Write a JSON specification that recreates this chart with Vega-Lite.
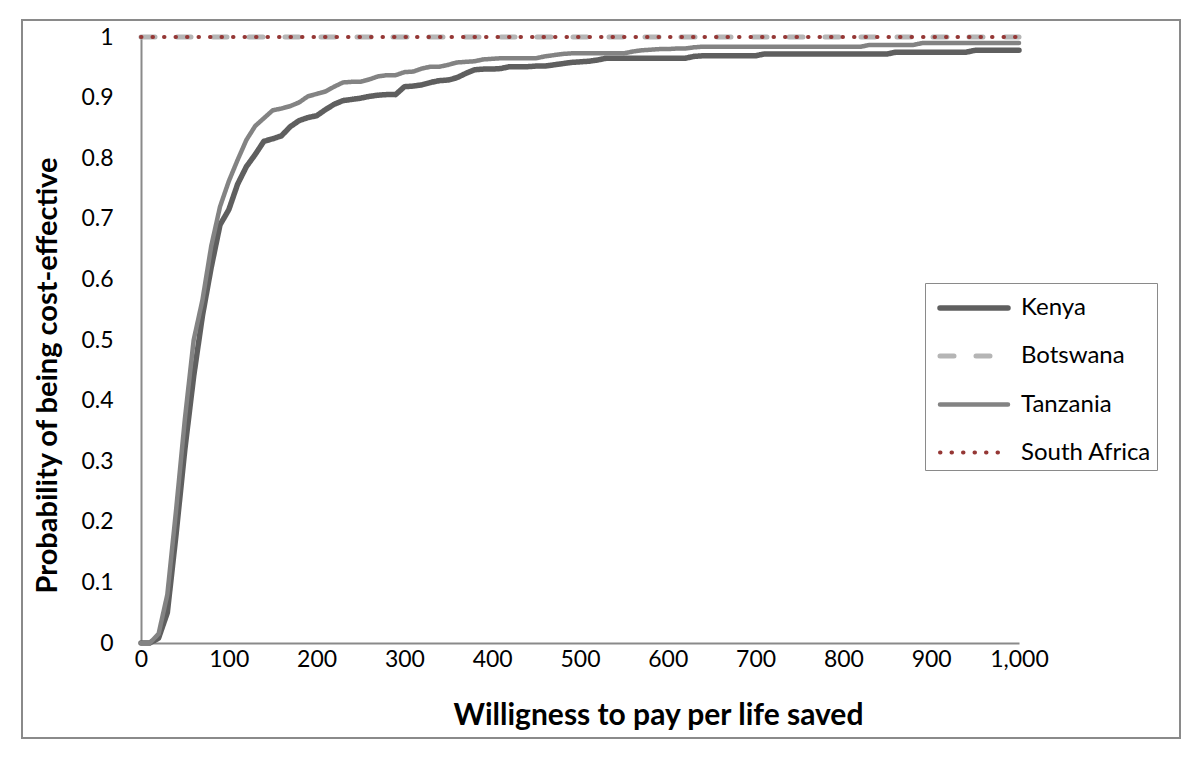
{
  "$schema": "https://vega.github.io/schema/vega-lite/v6.json",
  "autosize": "none",
  "width": 1158,
  "height": 718,
  "padding": {"left": 22, "top": 20, "right": 20, "bottom": 25},
  "background": "white",
  "config": {
    "view": {"stroke": "#8a8a8a", "strokeWidth": 2},
    "font": "Lato"
  },
  "data": {"values": [
    {"c":"Kenya","w":0,"p":0},{"c":"Kenya","w":10,"p":0},{"c":"Kenya","w":20,"p":0.008},{"c":"Kenya","w":30,"p":0.05},{"c":"Kenya","w":40,"p":0.18},{"c":"Kenya","w":50,"p":0.32},{"c":"Kenya","w":60,"p":0.44},{"c":"Kenya","w":70,"p":0.54},{"c":"Kenya","w":80,"p":0.62},{"c":"Kenya","w":90,"p":0.69},
    {"c":"Kenya","w":100,"p":0.715},{"c":"Kenya","w":110,"p":0.757},{"c":"Kenya","w":120,"p":0.786},{"c":"Kenya","w":130,"p":0.806},{"c":"Kenya","w":140,"p":0.828},{"c":"Kenya","w":150,"p":0.832},{"c":"Kenya","w":160,"p":0.837},{"c":"Kenya","w":170,"p":0.852},{"c":"Kenya","w":180,"p":0.862},{"c":"Kenya","w":190,"p":0.867},
    {"c":"Kenya","w":200,"p":0.87},{"c":"Kenya","w":210,"p":0.88},{"c":"Kenya","w":220,"p":0.889},{"c":"Kenya","w":230,"p":0.895},{"c":"Kenya","w":240,"p":0.897},{"c":"Kenya","w":250,"p":0.899},{"c":"Kenya","w":260,"p":0.902},{"c":"Kenya","w":270,"p":0.904},{"c":"Kenya","w":280,"p":0.905},{"c":"Kenya","w":290,"p":0.905},
    {"c":"Kenya","w":300,"p":0.918},{"c":"Kenya","w":310,"p":0.919},{"c":"Kenya","w":320,"p":0.921},{"c":"Kenya","w":330,"p":0.925},{"c":"Kenya","w":340,"p":0.928},{"c":"Kenya","w":350,"p":0.929},{"c":"Kenya","w":360,"p":0.933},{"c":"Kenya","w":370,"p":0.94},{"c":"Kenya","w":380,"p":0.946},{"c":"Kenya","w":390,"p":0.947},
    {"c":"Kenya","w":400,"p":0.947},{"c":"Kenya","w":410,"p":0.948},{"c":"Kenya","w":420,"p":0.951},{"c":"Kenya","w":430,"p":0.951},{"c":"Kenya","w":440,"p":0.951},{"c":"Kenya","w":450,"p":0.952},{"c":"Kenya","w":460,"p":0.952},{"c":"Kenya","w":470,"p":0.954},{"c":"Kenya","w":480,"p":0.956},{"c":"Kenya","w":490,"p":0.958},
    {"c":"Kenya","w":500,"p":0.959},{"c":"Kenya","w":510,"p":0.96},{"c":"Kenya","w":520,"p":0.962},{"c":"Kenya","w":530,"p":0.965},{"c":"Kenya","w":540,"p":0.965},{"c":"Kenya","w":550,"p":0.965},{"c":"Kenya","w":560,"p":0.965},{"c":"Kenya","w":570,"p":0.965},{"c":"Kenya","w":580,"p":0.965},{"c":"Kenya","w":590,"p":0.965},
    {"c":"Kenya","w":600,"p":0.965},{"c":"Kenya","w":610,"p":0.965},{"c":"Kenya","w":620,"p":0.965},{"c":"Kenya","w":630,"p":0.968},{"c":"Kenya","w":640,"p":0.969},{"c":"Kenya","w":650,"p":0.969},{"c":"Kenya","w":660,"p":0.969},{"c":"Kenya","w":670,"p":0.969},{"c":"Kenya","w":680,"p":0.969},{"c":"Kenya","w":690,"p":0.969},
    {"c":"Kenya","w":700,"p":0.969},{"c":"Kenya","w":710,"p":0.972},{"c":"Kenya","w":720,"p":0.972},{"c":"Kenya","w":730,"p":0.972},{"c":"Kenya","w":740,"p":0.972},{"c":"Kenya","w":750,"p":0.972},{"c":"Kenya","w":760,"p":0.972},{"c":"Kenya","w":770,"p":0.972},{"c":"Kenya","w":780,"p":0.972},{"c":"Kenya","w":790,"p":0.972},
    {"c":"Kenya","w":800,"p":0.972},{"c":"Kenya","w":810,"p":0.972},{"c":"Kenya","w":820,"p":0.972},{"c":"Kenya","w":830,"p":0.972},{"c":"Kenya","w":840,"p":0.972},{"c":"Kenya","w":850,"p":0.972},{"c":"Kenya","w":860,"p":0.975},{"c":"Kenya","w":870,"p":0.975},{"c":"Kenya","w":880,"p":0.975},{"c":"Kenya","w":890,"p":0.975},
    {"c":"Kenya","w":900,"p":0.975},{"c":"Kenya","w":910,"p":0.975},{"c":"Kenya","w":920,"p":0.975},{"c":"Kenya","w":930,"p":0.975},{"c":"Kenya","w":940,"p":0.975},{"c":"Kenya","w":950,"p":0.978},{"c":"Kenya","w":960,"p":0.978},{"c":"Kenya","w":970,"p":0.978},{"c":"Kenya","w":980,"p":0.978},{"c":"Kenya","w":990,"p":0.978},{"c":"Kenya","w":1000,"p":0.978},
    {"c":"Botswana","w":0,"p":1},{"c":"Botswana","w":1000,"p":1},
    {"c":"Tanzania","w":0,"p":0},{"c":"Tanzania","w":10,"p":0},{"c":"Tanzania","w":20,"p":0.015},{"c":"Tanzania","w":30,"p":0.08},{"c":"Tanzania","w":40,"p":0.22},{"c":"Tanzania","w":50,"p":0.37},{"c":"Tanzania","w":60,"p":0.5},{"c":"Tanzania","w":70,"p":0.566},{"c":"Tanzania","w":80,"p":0.655},{"c":"Tanzania","w":90,"p":0.72},
    {"c":"Tanzania","w":100,"p":0.762},{"c":"Tanzania","w":110,"p":0.797},{"c":"Tanzania","w":120,"p":0.83},{"c":"Tanzania","w":130,"p":0.853},{"c":"Tanzania","w":140,"p":0.866},{"c":"Tanzania","w":150,"p":0.879},{"c":"Tanzania","w":160,"p":0.882},{"c":"Tanzania","w":170,"p":0.886},{"c":"Tanzania","w":180,"p":0.892},{"c":"Tanzania","w":190,"p":0.902},
    {"c":"Tanzania","w":200,"p":0.906},{"c":"Tanzania","w":210,"p":0.91},{"c":"Tanzania","w":220,"p":0.918},{"c":"Tanzania","w":230,"p":0.925},{"c":"Tanzania","w":240,"p":0.926},{"c":"Tanzania","w":250,"p":0.926},{"c":"Tanzania","w":260,"p":0.93},{"c":"Tanzania","w":270,"p":0.935},{"c":"Tanzania","w":280,"p":0.937},{"c":"Tanzania","w":290,"p":0.937},
    {"c":"Tanzania","w":300,"p":0.942},{"c":"Tanzania","w":310,"p":0.943},{"c":"Tanzania","w":320,"p":0.948},{"c":"Tanzania","w":330,"p":0.951},{"c":"Tanzania","w":340,"p":0.951},{"c":"Tanzania","w":350,"p":0.954},{"c":"Tanzania","w":360,"p":0.958},{"c":"Tanzania","w":370,"p":0.959},{"c":"Tanzania","w":380,"p":0.96},{"c":"Tanzania","w":390,"p":0.963},
    {"c":"Tanzania","w":400,"p":0.964},{"c":"Tanzania","w":410,"p":0.965},{"c":"Tanzania","w":420,"p":0.965},{"c":"Tanzania","w":430,"p":0.965},{"c":"Tanzania","w":440,"p":0.965},{"c":"Tanzania","w":450,"p":0.965},{"c":"Tanzania","w":460,"p":0.968},{"c":"Tanzania","w":470,"p":0.97},{"c":"Tanzania","w":480,"p":0.972},{"c":"Tanzania","w":490,"p":0.973},
    {"c":"Tanzania","w":500,"p":0.973},{"c":"Tanzania","w":510,"p":0.973},{"c":"Tanzania","w":520,"p":0.973},{"c":"Tanzania","w":530,"p":0.973},{"c":"Tanzania","w":540,"p":0.973},{"c":"Tanzania","w":550,"p":0.973},{"c":"Tanzania","w":560,"p":0.976},{"c":"Tanzania","w":570,"p":0.978},{"c":"Tanzania","w":580,"p":0.979},{"c":"Tanzania","w":590,"p":0.98},
    {"c":"Tanzania","w":600,"p":0.98},{"c":"Tanzania","w":610,"p":0.981},{"c":"Tanzania","w":620,"p":0.981},{"c":"Tanzania","w":630,"p":0.983},{"c":"Tanzania","w":640,"p":0.984},{"c":"Tanzania","w":650,"p":0.984},{"c":"Tanzania","w":660,"p":0.984},{"c":"Tanzania","w":670,"p":0.984},{"c":"Tanzania","w":680,"p":0.984},{"c":"Tanzania","w":690,"p":0.984},
    {"c":"Tanzania","w":700,"p":0.984},{"c":"Tanzania","w":710,"p":0.984},{"c":"Tanzania","w":720,"p":0.984},{"c":"Tanzania","w":730,"p":0.984},{"c":"Tanzania","w":740,"p":0.984},{"c":"Tanzania","w":750,"p":0.984},{"c":"Tanzania","w":760,"p":0.984},{"c":"Tanzania","w":770,"p":0.984},{"c":"Tanzania","w":780,"p":0.984},{"c":"Tanzania","w":790,"p":0.984},
    {"c":"Tanzania","w":800,"p":0.984},{"c":"Tanzania","w":810,"p":0.984},{"c":"Tanzania","w":820,"p":0.984},{"c":"Tanzania","w":830,"p":0.987},{"c":"Tanzania","w":840,"p":0.987},{"c":"Tanzania","w":850,"p":0.987},{"c":"Tanzania","w":860,"p":0.987},{"c":"Tanzania","w":870,"p":0.987},{"c":"Tanzania","w":880,"p":0.987},{"c":"Tanzania","w":890,"p":0.99},
    {"c":"Tanzania","w":900,"p":0.99},{"c":"Tanzania","w":910,"p":0.99},{"c":"Tanzania","w":920,"p":0.99},{"c":"Tanzania","w":930,"p":0.99},{"c":"Tanzania","w":940,"p":0.99},{"c":"Tanzania","w":950,"p":0.99},{"c":"Tanzania","w":960,"p":0.99},{"c":"Tanzania","w":970,"p":0.99},{"c":"Tanzania","w":980,"p":0.99},{"c":"Tanzania","w":990,"p":0.99},{"c":"Tanzania","w":1000,"p":0.99},
    {"c":"South Africa","w":0,"p":1},{"c":"South Africa","w":1000,"p":1}
  ]},
  "mark": {"type": "line", "strokeCap": "round", "strokeJoin": "round", "clip": false},
  "encoding": {
    "x": {
      "field": "w", "type": "quantitative",
      "scale": {"domain": [0, 1000], "range": [119, 997], "nice": false, "zero": false},
      "axis": {
        "offset": -95,
        "values": [0,100,200,300,400,500,600,700,800,900,1000],
        "format": ",d",
        "grid": false, "ticks": false, "tickSize": 0,
        "domainColor": "#8a8a8a", "domainWidth": 2,
        "labelFont": "Lato", "labelFontSize": 23, "labelColor": "#000000", "labelPadding": 5,
        "labelFlush": false,
        "title": "Willigness to pay per life saved",
        "titleFont": "Lato", "titleFontSize": 30, "titleFontWeight": "bold", "titleColor": "#000000",
        "titleAnchor": null, "titleAlign": "center", "titleBaseline": "middle",
        "titleX": 636, "titleY": 72
      }
    },
    "y": {
      "field": "p", "type": "quantitative",
      "scale": {"domain": [0, 1], "range": [623, 17], "nice": false, "zero": false},
      "axis": {
        "offset": -119,
        "values": [0,0.1,0.2,0.3,0.4,0.5,0.6,0.7,0.8,0.9,1],
        "format": ".1~f",
        "grid": false, "ticks": false, "tickSize": 0,
        "domainColor": "#8a8a8a", "domainWidth": 2,
        "labelFont": "Lato", "labelFontSize": 23, "labelColor": "#000000", "labelPadding": 28,
        "labelFlush": false,
        "title": "Probability of being cost-effective",
        "titleFont": "Lato", "titleFontSize": 29, "titleFontWeight": "bold", "titleColor": "#000000",
        "titleAnchor": null, "titleAlign": "center", "titleBaseline": "middle", "titleAngle": -90,
        "titleX": -94, "titleY": 355
      }
    },
    "color": {
      "field": "c", "type": "nominal",
      "sort": ["Kenya", "Botswana", "Tanzania", "South Africa"],
      "scale": {"domain": ["Kenya", "Botswana", "Tanzania", "South Africa"], "range": ["#5f5f5f", "#b5b5b5", "#838383", "#953735"]},
      "legend": {
        "title": null,
        "orient": "none", "legendX": 903, "legendY": 263,
        "symbolType": "M-2,0H2", "symbolSize": 1156, "symbolStrokeWidth": 5, "symbolOffset": 24,
        "labelFont": "Lato", "labelFontSize": 24, "labelColor": "#000000", "labelOffset": 27,
        "rowPadding": 16.5, "padding": 5,
        "strokeColor": "#8a8a8a", "fillColor": "white",
        "encode": {"symbols": {"update": {"strokeCap": {"value": "round"}}}}
      }
    },
    "strokeDash": {
      "field": "c", "type": "nominal",
      "sort": ["Kenya", "Botswana", "Tanzania", "South Africa"],
      "scale": {"domain": ["Kenya", "Botswana", "Tanzania", "South Africa"], "range": [[1, 0], [14, 22], [1, 0], [0.5, 11]]},
      "legend": null
    },
    "strokeWidth": {
      "field": "c", "type": "nominal",
      "sort": ["Kenya", "Botswana", "Tanzania", "South Africa"],
      "scale": {"domain": ["Kenya", "Botswana", "Tanzania", "South Africa"], "range": [5.5, 4, 5.5, 3.5]},
      "legend": null
    }
  }
}
